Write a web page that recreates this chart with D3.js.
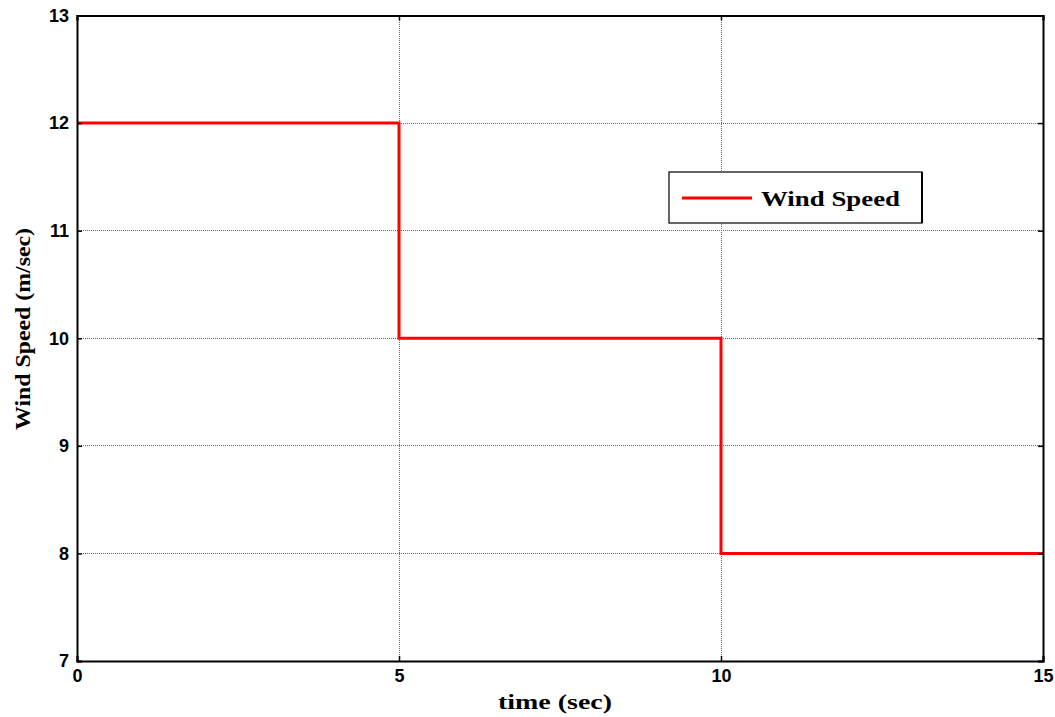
<!DOCTYPE html>
<html>
<head>
<meta charset="utf-8">
<script src="https://cdn.jsdelivr.net/npm/d3@7"></script>
<style>
  html, body { margin: 0; padding: 0; background: #fff; }
  svg { display: block; }
</style>
</head>
<body>
<svg id="chart" width="1055" height="717"></svg>
<script>
// Step profile of wind speed over time
const timeSec = [0, 5, 5, 10, 10, 15];
const windSpeed = [12, 12, 10, 10, 8, 8];
const xTicks = [0, 5, 10, 15];
const yTicks = [7, 8, 9, 10, 11, 12, 13];
const seriesName = "Wind Speed";

const svg = d3.select("#chart");
const m = { left: 77, top: 15.5, right: 1043, bottom: 661 };

const x = d3.scaleLinear().domain([0, 15]).range([m.left, m.right]);
const y = d3.scaleLinear().domain([7, 13]).range([m.bottom, m.top]);

// dotted grid
const grid = svg.append("g").attr("shape-rendering", "crispEdges");
grid.selectAll("line.vx").data(xTicks.slice(1, -1)).join("line")
  .attr("x1", d => x(d)).attr("x2", d => x(d))
  .attr("y1", m.top).attr("y2", m.bottom)
  .attr("stroke", "#666").attr("stroke-width", 1).attr("stroke-dasharray", "1,1");
grid.selectAll("line.hy").data(yTicks.slice(1, -1)).join("line")
  .attr("x1", m.left).attr("x2", m.right)
  .attr("y1", d => y(d)).attr("y2", d => y(d))
  .attr("stroke", "#666").attr("stroke-width", 1).attr("stroke-dasharray", "1,1");

// data line
const line = d3.line().x((d, i) => x(timeSec[i])).y(d => y(d));
svg.append("path").datum(windSpeed)
  .attr("d", line)
  .attr("fill", "none").attr("stroke", "#ff0000").attr("stroke-width", 3);

// axes (ticks pointing inward, mirrored on top/right)
const tickFont = "bold 18px Arial, 'Liberation Sans', sans-serif";
const bottomAxis = d3.axisBottom(x).tickValues(xTicks).tickSize(-5).tickPadding(10).tickFormat(d3.format("d"));
const leftAxis = d3.axisLeft(y).tickValues(yTicks).tickSize(-5).tickPadding(8).tickFormat(d3.format("d"));
const topAxis = d3.axisTop(x).tickValues(xTicks).tickSize(-5).tickFormat("");
const rightAxis = d3.axisRight(y).tickValues(yTicks).tickSize(-5).tickFormat("");

function style(g) {
  g.attr("font-size", null).attr("font-family", null);
  g.select(".domain").attr("stroke", "#000").attr("stroke-width", 2);
  g.selectAll(".tick line").attr("stroke", "#000").attr("stroke-width", 1.5);
  g.selectAll(".tick text").style("font", tickFont).attr("fill", "#000");
}
svg.append("g").attr("transform", `translate(0,${m.bottom})`).call(bottomAxis).call(style)
  .call(g => g.selectAll(".tick text").attr("dy", "0.62em"));
svg.append("g").attr("transform", `translate(${m.left},0)`).call(leftAxis).call(style);
svg.append("g").attr("transform", `translate(0,${m.top})`).call(topAxis).call(style);
svg.append("g").attr("transform", `translate(${m.right},0)`).call(rightAxis).call(style);

// axis titles
const titleFont = "bold 20px 'Liberation Serif', 'Times New Roman', serif";
svg.append("text").attr("x", 555).attr("y", 709)
  .attr("text-anchor", "middle").style("font", titleFont)
  .attr("textLength", 114).attr("lengthAdjust", "spacingAndGlyphs")
  .text("time (sec)");
svg.append("text").attr("transform", `translate(30,329) rotate(-90)`)
  .attr("text-anchor", "middle").style("font", titleFont)
  .attr("textLength", 202).attr("lengthAdjust", "spacingAndGlyphs")
  .text("Wind Speed  (m/sec)");

// legend
const lg = svg.append("g").attr("transform", "translate(669,172)");
lg.append("rect").attr("x", 0).attr("y", 0).attr("width", 253).attr("height", 51)
  .attr("fill", "#fff").attr("stroke", "#000").attr("stroke-width", 1.2);
lg.append("line").attr("x1", 253).attr("x2", 253).attr("y1", 0).attr("y2", 51)
  .attr("stroke", "#000").attr("stroke-width", 2);
lg.append("line").attr("x1", 13).attr("x2", 83).attr("y1", 26).attr("y2", 26)
  .attr("stroke", "#ff0000").attr("stroke-width", 3);
lg.append("text").attr("x", 92).attr("y", 34)
  .style("font", "bold 21px 'Liberation Serif', 'Times New Roman', serif")
  .attr("textLength", 139).attr("lengthAdjust", "spacingAndGlyphs")
  .text(seriesName);
</script>
</body>
</html>
